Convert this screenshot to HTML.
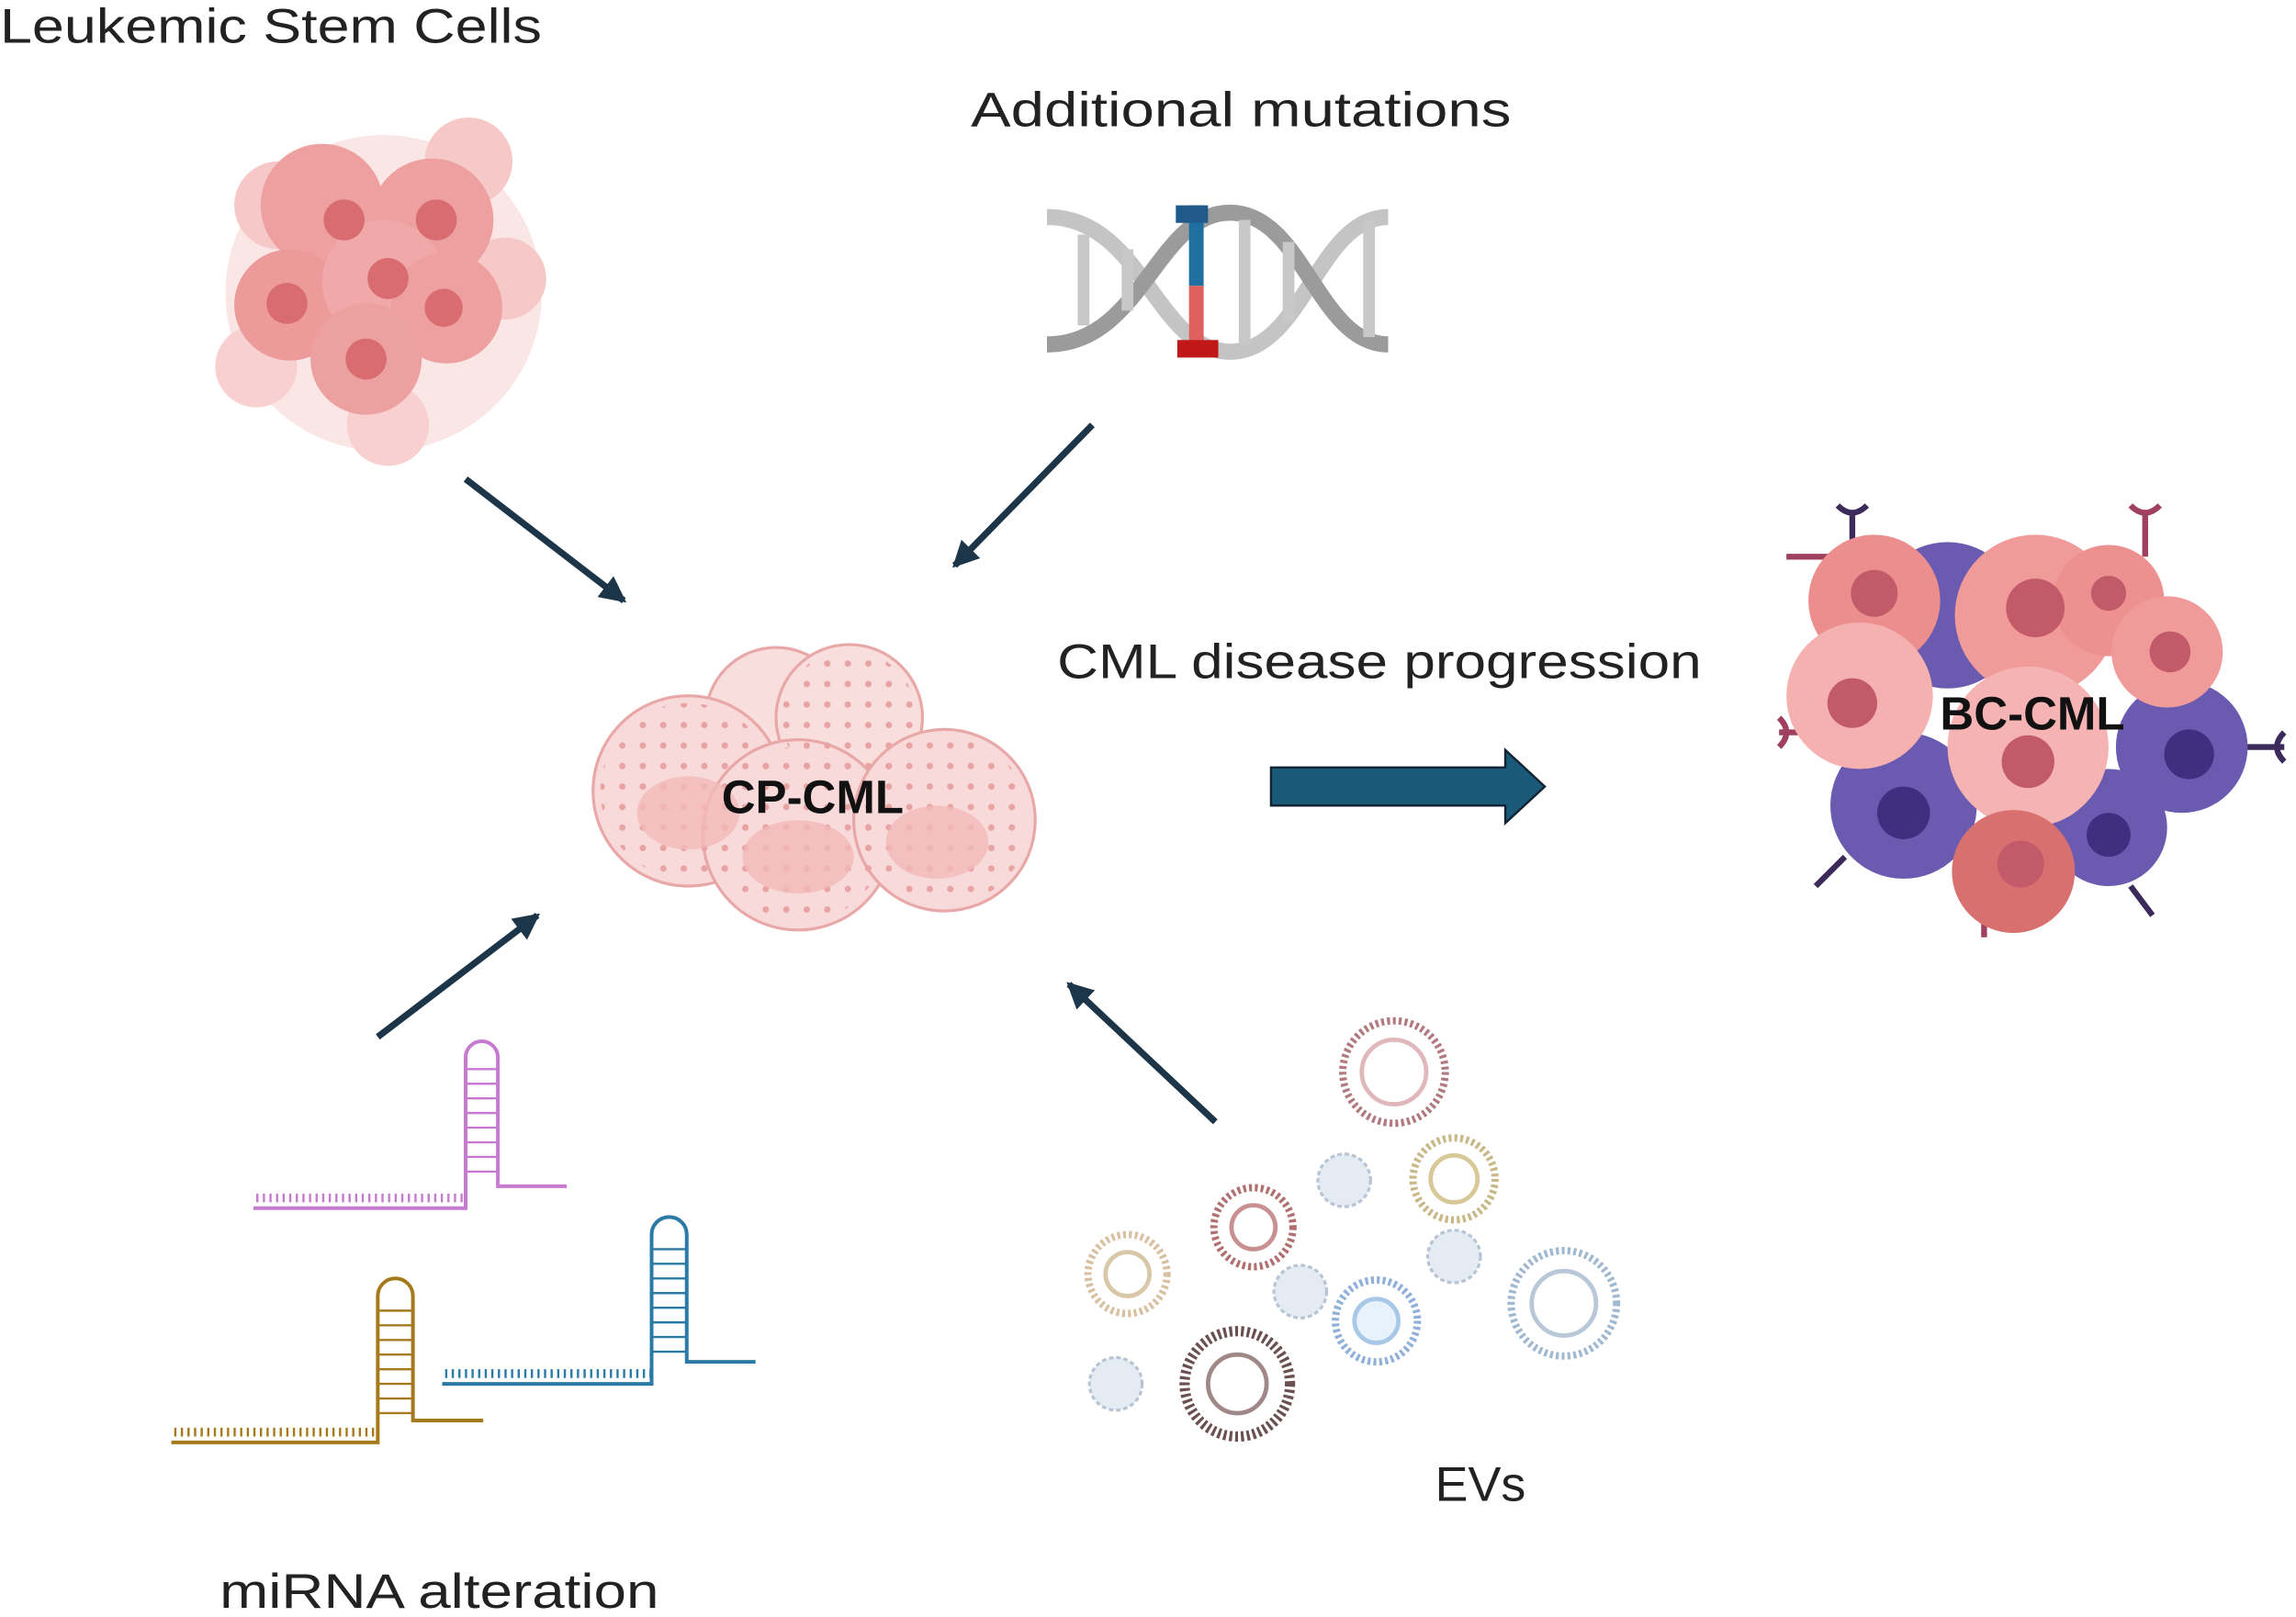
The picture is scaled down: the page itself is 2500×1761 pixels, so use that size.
<!DOCTYPE html>
<html><head><meta charset="utf-8"><style>
html,body{margin:0;padding:0;background:#fff;}
svg{display:block}
text{font-family:"Liberation Sans",sans-serif;}
</style></head><body>
<svg width="2500" height="1761" viewBox="0 0 1568 1104" xmlns="http://www.w3.org/2000/svg">
<defs>
<marker id="ah" markerWidth="4" markerHeight="4" refX="3.5" refY="2" orient="auto" markerUnits="strokeWidth">
<path d="M0,0 L4,2 L0,4 z" fill="#1c3548"/></marker>
<pattern id="dots" width="14" height="14" patternUnits="userSpaceOnUse"><circle cx="5" cy="5" r="2.2" fill="#e8a3a3"/></pattern>
</defs>
<rect width="1568" height="1104" fill="#fff"/>

<text x="0" y="29" font-size="33" fill="#222" textLength="370" lengthAdjust="spacingAndGlyphs">Leukemic Stem Cells</text>
<text x="663" y="86" font-size="33" fill="#222" textLength="369" lengthAdjust="spacingAndGlyphs">Additional mutations</text>
<text x="722" y="463" font-size="33" fill="#222" textLength="440" lengthAdjust="spacingAndGlyphs">CML disease progression</text>
<text x="980" y="1025" font-size="33" fill="#222" textLength="62" lengthAdjust="spacingAndGlyphs">EVs</text>
<text x="150" y="1098" font-size="33" fill="#222" textLength="300" lengthAdjust="spacingAndGlyphs">miRNA alteration</text>

<!-- LSC cluster -->
<g>
<circle cx="262" cy="200" r="108" fill="#f9dcdc" opacity="0.7"/>
<circle cx="190" cy="140" r="30" fill="#f6c8c8"/><circle cx="320" cy="110" r="30" fill="#f6c8c8"/>
<circle cx="345" cy="190" r="28" fill="#f6c8c8"/><circle cx="265" cy="290" r="28" fill="#f8d0d0"/>
<circle cx="175" cy="250" r="28" fill="#f8d0d0"/>
<circle cx="220" cy="140" r="42" fill="#eea0a0"/>
<circle cx="295" cy="150" r="42" fill="#eea0a0"/>
<circle cx="198" cy="208" r="38" fill="#ec9a9a"/>
<circle cx="262" cy="192" r="42" fill="#f0a8a8"/>
<circle cx="305" cy="210" r="38" fill="#eea0a0"/>
<circle cx="250" cy="245" r="38" fill="#eca0a0"/>
<circle cx="235" cy="150" r="14" fill="#d86c70"/><circle cx="298" cy="150" r="14" fill="#d86c70"/>
<circle cx="196" cy="207" r="14" fill="#d86c70"/><circle cx="265" cy="190" r="14" fill="#d86c70"/>
<circle cx="303" cy="210" r="13" fill="#d86c70"/><circle cx="250" cy="245" r="14" fill="#d86c70"/>
</g>

<!-- DNA -->
<g fill="none" stroke-width="11">
<path d="M715,148 C780,148 790,240 840,240 C890,240 900,148 948,148" stroke="#c4c4c4"/>
<path d="M715,235 C780,235 790,145 840,145 C890,145 900,235 948,235" stroke="#9b9b9b"/>
</g>
<g stroke="#c8c8c8" stroke-width="8">
<line x1="740" y1="160" x2="740" y2="222"/><line x1="770" y1="170" x2="770" y2="212"/>
<line x1="850" y1="150" x2="850" y2="235"/><line x1="880" y1="165" x2="880" y2="220"/><line x1="935" y1="150" x2="935" y2="230"/>
</g>
<rect x="812" y="140" width="10" height="55" fill="#1f6fa0"/>
<rect x="812" y="195" width="10" height="40" fill="#e06060"/>
<rect x="804" y="232" width="28" height="12" fill="#c01818"/>
<rect x="803" y="140" width="22" height="12" fill="#1f5a8a"/>

<!-- arrows -->
<g stroke="#1c3548" stroke-width="4.5" marker-end="url(#ah)">
<line x1="318" y1="327" x2="426" y2="410"/>
<line x1="746" y1="290" x2="652" y2="386"/>
<line x1="258" y1="708" x2="367" y2="625"/>
<line x1="830" y1="766" x2="730" y2="672"/>
</g>
<path d="M868,524 H1028 V512 L1055,537 L1028,562 V550 H868 Z" fill="#1a5a78" stroke="#123" stroke-width="1.5"/>

<!-- CP-CML -->
<g stroke="#e9a8a8" stroke-width="2">
<circle cx="530" cy="490" r="48" fill="#f9dede"/>
<circle cx="580" cy="490" r="50" fill="#f9dede"/>
<circle cx="470" cy="540" r="65" fill="#f9dada"/>
<circle cx="545" cy="570" r="65" fill="#f9dada"/>
<circle cx="645" cy="560" r="62" fill="#f9dada"/>
</g>
<g fill="url(#dots)"><circle cx="470" cy="540" r="60"/><circle cx="545" cy="570" r="60"/><circle cx="645" cy="560" r="58"/><circle cx="580" cy="490" r="46"/></g>
<g fill="#f3b9b9" opacity="0.8"><ellipse cx="470" cy="555" rx="35" ry="25"/><ellipse cx="545" cy="585" rx="38" ry="25"/><ellipse cx="640" cy="575" rx="35" ry="25"/></g>
<text x="555" y="555" font-size="32" font-weight="bold" text-anchor="middle" fill="#111">CP-CML</text>

<!-- BC-CML -->
<g>
<g stroke-width="4" fill="none">
<path d="M1265,350 v30 M1255,345 q10,10 20,0" stroke="#3b2a5a"/>
<path d="M1465,350 v30 M1455,345 q10,10 20,0" stroke="#a04060"/>
<path d="M1220,380 h30" stroke="#a04060"/>
<path d="M1530,510 h30 M1560,500 q-10,10 0,20" stroke="#3b2a5a"/>
<path d="M1215,500 h30 M1215,490 q10,10 0,20" stroke="#a04060"/>
<path d="M1240,605 l20,-20" stroke="#3b2a5a"/>
<path d="M1355,640 v-30" stroke="#a04060"/>
<path d="M1470,625 l-15,-20" stroke="#3b2a5a"/>
</g>
<circle cx="1330" cy="420" r="50" fill="#6b5bb0"/>
<circle cx="1490" cy="510" r="45" fill="#6b5bb0"/>
<circle cx="1300" cy="550" r="50" fill="#6b5bb0"/>
<circle cx="1440" cy="565" r="40" fill="#6b5bb0"/>
<circle cx="1280" cy="410" r="45" fill="#ec8e8e"/>
<circle cx="1390" cy="420" r="55" fill="#f09a9a"/>
<circle cx="1440" cy="410" r="38" fill="#ec9090"/>
<circle cx="1480" cy="445" r="38" fill="#f09a9a"/>
<circle cx="1270" cy="475" r="50" fill="#f5b0b0"/>
<circle cx="1385" cy="510" r="55" fill="#f5b3b3"/>
<circle cx="1375" cy="595" r="42" fill="#d87070"/>
<g fill="#c35a6a"><circle cx="1280" cy="405" r="16"/><circle cx="1390" cy="415" r="20"/><circle cx="1482" cy="445" r="14"/><circle cx="1265" cy="480" r="17"/><circle cx="1385" cy="520" r="18"/><circle cx="1380" cy="590" r="16"/><circle cx="1440" cy="405" r="12"/></g>
<g fill="#3e2f80"><circle cx="1300" cy="555" r="18"/><circle cx="1495" cy="515" r="17"/><circle cx="1440" cy="570" r="15"/></g>
<text x="1388" y="498" font-size="32" font-weight="bold" text-anchor="middle" fill="#111">BC-CML</text>
</g>

<!-- miRNA -->
<g fill="none" stroke-width="2.5">
<path d="M173,825 H318 V722 a11,11 0 0 1 22,0 V810 H387" stroke="#c67ad0"/>
<path d="M117,985 H258 V885 a12,12 0 0 1 24,0 V970 H330" stroke="#a57a1c"/>
<path d="M302,945 H445 V843 a12,12 0 0 1 24,0 V930 H516" stroke="#2a7aa8"/>
</g>
<g stroke-width="1.5">
<path d="M318,730 H340 M318,740 H340 M318,750 H340 M318,760 H340 M318,770 H340 M318,780 H340 M318,790 H340 M318,800 H340" stroke="#c67ad0"/>
<path d="M258,895 H282 M258,905 H282 M258,915 H282 M258,925 H282 M258,935 H282 M258,945 H282 M258,955 H282 M258,965 H282" stroke="#a57a1c"/>
<path d="M445,853 H469 M445,863 H469 M445,873 H469 M445,883 H469 M445,893 H469 M445,903 H469 M445,913 H469 M445,923 H469" stroke="#2a7aa8"/>
</g>
<path d="M175,818 H318" stroke="#c67ad0" stroke-width="6" stroke-dasharray="1.5 3"/>
<path d="M119,978 H258" stroke="#a57a1c" stroke-width="6" stroke-dasharray="1.5 3"/>
<path d="M304,938 H445" stroke="#2a7aa8" stroke-width="6" stroke-dasharray="1.5 3"/>

<!-- EVs -->
<g fill="none">
<circle cx="952" cy="732" r="35" stroke="#b07a80" stroke-width="5" stroke-dasharray="2 2"/><circle cx="952" cy="732" r="22" stroke="#e0b8bc" stroke-width="3"/>
<circle cx="993" cy="805" r="28" stroke="#c8b888" stroke-width="5" stroke-dasharray="2 2"/><circle cx="993" cy="805" r="16" stroke="#d8c898" stroke-width="3"/>
<circle cx="856" cy="838" r="27" stroke="#b07070" stroke-width="5" stroke-dasharray="2 2"/><circle cx="856" cy="838" r="15" stroke="#c89090" stroke-width="3"/>
<circle cx="770" cy="870" r="27" stroke="#d8c0a0" stroke-width="5" stroke-dasharray="2 2"/><circle cx="770" cy="870" r="15" stroke="#d8c8a8" stroke-width="3"/>
<circle cx="940" cy="902" r="28" stroke="#90b0d8" stroke-width="5" stroke-dasharray="2 2"/><circle cx="940" cy="902" r="15" stroke="#a8c8e8" stroke-width="3" fill="#e8f2fb"/>
<circle cx="1068" cy="890" r="36" stroke="#a0b8d0" stroke-width="5" stroke-dasharray="2 2"/><circle cx="1068" cy="890" r="22" stroke="#b8c8d8" stroke-width="3"/>
<circle cx="845" cy="945" r="36" stroke="#6a5050" stroke-width="7" stroke-dasharray="2 2"/><circle cx="845" cy="945" r="20" stroke="#a08888" stroke-width="3"/>
</g>
<g fill="#e4ebf2" stroke="#b8c4d4" stroke-width="2" stroke-dasharray="3 2">
<circle cx="918" cy="806" r="18"/><circle cx="993" cy="858" r="18"/><circle cx="888" cy="882" r="18"/><circle cx="762" cy="945" r="18"/>
</g>
</svg>
</body></html>
